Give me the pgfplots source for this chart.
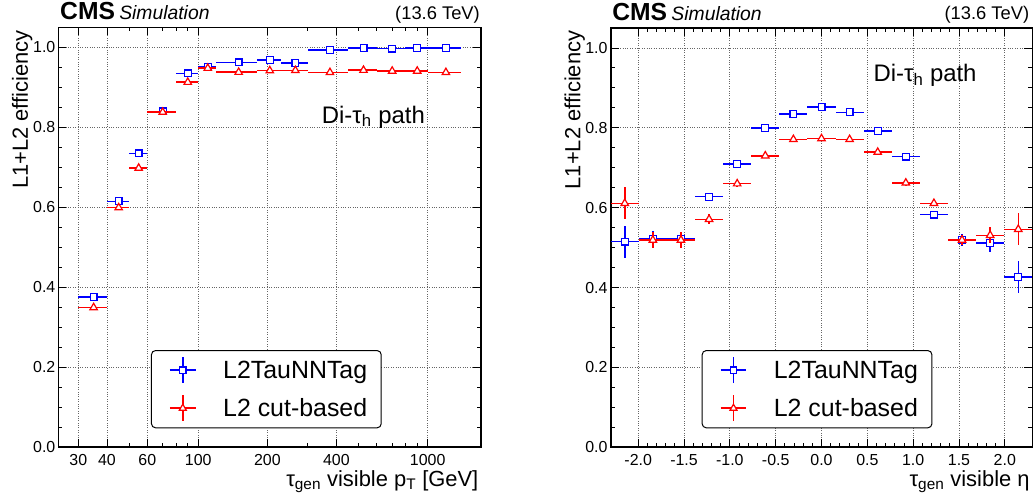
\documentclass[border=0pt]{standalone}
\usepackage{fontspec}
\setmainfont{Liberation Sans}
\usepackage{pgfplots}
\pgfplotsset{compat=1.18}
\definecolor{rblue}{RGB}{0,0,255}
\definecolor{rred}{RGB}{255,0,0}
\newcommand{\legcross}[3]{%
  \pgfpathrectangle{\pgfpoint{-17.3bp}{-12.8bp}}{\pgfpoint{30.1bp}{25.6bp}}\pgfusepath{use as bounding box}%
  \begin{scope}[draw=#1, line width=1.5bp]
    \pgfpathmoveto{\pgfpoint{-12.8bp}{0bp}}\pgfpathlineto{\pgfpoint{12.8bp}{0bp}}%
    \pgfpathmoveto{\pgfpoint{0bp}{-12.8bp}}\pgfpathlineto{\pgfpoint{0bp}{12.8bp}}%
    \pgfusepath{stroke}%
  \end{scope}
  \begin{scope}[draw=#1, fill=white, line width=1.2bp]
    \pgfsetplotmarksize{#3}\pgfuseplotmark{#2}%
  \end{scope}}
\pgfplotsset{
  cmsaxis/.style={
    scale only axis,
    anchor=south west,
    clip mode=individual,
    ymin=0, ymax=1.05,
    ytick={0,0.2,0.4,0.6,0.8,1.0},
    yticklabels={0.0,0.2,0.4,0.6,0.8,1.0},
    minor y tick num=3,
    tick align=inside,
    major tick length=8bp,
    minor tick length=4bp,
    every tick/.style={black, line width=0.9bp},
    axis line style={black, line width=1.6bp},
    grid=major,
    major grid style={dotted, black!60, line width=0.9bp},
    /pgf/number format/assume math mode=true,
    tick label style={font=\fontsize{16}{19}\selectfont},
    y tick label style={inner sep=0pt, xshift=-3bp},
    x tick label style={inner sep=0pt, yshift=-7bp},
    every axis x label/.style={at={(axis description cs:1,0)}, anchor=base east, inner sep=0pt, yshift=-39bp, xshift=-2.5bp, font=\fontsize{22}{26}\selectfont},
    every axis y label/.style={at={(axis description cs:-0.0722,0.994)}, rotate=90, anchor=base east, inner sep=0pt, font=\fontsize{22}{26}\selectfont},
    ylabel={L1+L2 efficiency},
    legend cell align=left,
    legend style={
      anchor=south west,
      draw=black, line width=1bp, rounded corners=4bp, fill=white,
      font=\fontsize{25}{30}\selectfont,
      inner xsep=14bp, inner ysep=6.8bp,
      row sep=12.4bp,
      nodes={inner sep=0pt},
      /tikz/every odd column/.append style={column sep=27.6bp},
    },
  },
  errstyle/.style={
    /pgfplots/error bars/x dir=both, /pgfplots/error bars/x explicit,
    /pgfplots/error bars/y dir=both, /pgfplots/error bars/y explicit,
    /pgfplots/error bars/error mark=none,
    /pgfplots/error bars/error bar style={line width=1.5bp}},
  bluepts/.style={only marks, color=rblue, mark=square*, mark size=3.4bp,
    mark options={fill=white, line width=1.2bp}, line width=1.5bp, errstyle},
  redpts/.style={only marks, color=rred, mark=triangle*, mark size=4.3bp,
    mark options={fill=white, line width=1.2bp}, line width=1.5bp, errstyle},
  bluelegend/.style={legend image code/.code={\legcross{rblue}{square*}{3.2bp}}},
  redlegend/.style={legend image code/.code={\legcross{rred}{triangle*}{4.0bp}}},
}
\newcommand{\cmslabel}{{\fontsize{24.75}{28}\selectfont\bfseries CMS}\hspace{4.3bp}{\fontsize{19.4}{23}\selectfont\itshape Simulation}}
\newcommand{\energylabel}{{\fontsize{18.4}{22}\selectfont (13.6 TeV)}}

\pgfplotstableread{
x     xm   xp   y      ey
35    5    5    0.375  0.004
45    5    5    0.615  0.004
55    5    5    0.735  0.004
70    10   10   0.840  0.003
90    10   10   0.935  0.003
110   10   10   0.952  0.002
150   30   30   0.9625 0.002
205   25   25   0.969  0.002
265   35   35   0.961  0.002
375   75   75   0.994  0.002
525   75   75   0.999  0.001
700   100  100  0.997  0.001
900   100  100  0.999  0.001
1200  200  200  0.999  0.001
}\ptblue
\pgfplotstableread{
x     xm   xp   y      ey
35    5    5    0.349  0.004
45    5    5    0.599  0.004
55    5    5    0.698  0.004
70    10   10   0.838  0.003
90    10   10   0.913  0.003
110   10   10   0.948  0.002
150   30   30   0.938  0.002
205   25   25   0.942  0.002
265   35   35   0.9425 0.002
375   75   75   0.9375 0.002
525   75   75   0.943  0.002
700   100  100  0.941  0.002
900   100  100  0.941  0.002
1200  200  200  0.9375 0.002
}\ptred
\pgfplotstableread{
x       xe      y       ey
-2.1467 0.1533  0.515   0.040
-1.8400 0.1533  0.521   0.021
-1.5333 0.1533  0.521   0.019
-1.2267 0.1533  0.6275  0.008
-0.9200 0.1533  0.710   0.006
-0.6133 0.1533  0.800   0.005
-0.3067 0.1533  0.835   0.005
0.0     0.1533  0.852   0.005
0.3067  0.1533  0.839   0.005
0.6133  0.1533  0.792   0.005
0.9200  0.1533  0.728   0.006
1.2267  0.1533  0.5825  0.008
1.5333  0.1533  0.519   0.015
1.8400  0.1533  0.512   0.022
2.1467  0.1533  0.426   0.040
}\etablue
\pgfplotstableread{
x       xe      y       ey
-2.1467 0.1533  0.611   0.040
-1.8400 0.1533  0.519   0.020
-1.5333 0.1533  0.519   0.020
-1.2267 0.1533  0.571   0.013
-0.9200 0.1533  0.660   0.007
-0.6133 0.1533  0.730   0.006
-0.3067 0.1533  0.771   0.005
0.0     0.1533  0.773   0.005
0.3067  0.1533  0.771   0.005
0.6133  0.1533  0.739   0.006
0.9200  0.1533  0.662   0.007
1.2267  0.1533  0.611   0.008
1.5333  0.1533  0.519   0.012
1.8400  0.1533  0.531   0.020
2.1467  0.1533  0.546   0.040
}\etared

\begin{document}
\begin{tikzpicture}
\useasboundingbox (0,0) rectangle (1036bp,502bp);
% ---------------- left: pT ----------------
\begin{axis}[cmsaxis,
  at={(58.5bp,55bp)}, width=422.5bp, height=419.5bp,
  xmode=log, xmin=24.6, xmax=1707,
  xtick={30,40,60,100,200,400,1000},
  xticklabels={30,40,60,100,200,400,1000},
  minor xtick={50,70,80,90,300,500,600,700,800,900},
  xlabel={τ\textsubscript{gen} visible p\textsubscript{T} [GeV]},
  legend style={at={(0.2189,0.0446)}},
]
\addplot[bluelegend, bluepts] table[x=x, y=y, x error plus=xp, x error minus=xm, y error=ey] {\ptblue};
\addlegendentry{L2TauNNTag}
\addplot[redlegend, redpts] table[x=x, y=y, x error plus=xp, x error minus=xm, y error=ey] {\ptred};
\addlegendentry{L2 cut-based}
\node[anchor=base west, inner sep=0pt, xshift=1.5bp, yshift=7.5bp] at (rel axis cs:0,1) {\cmslabel};
\node[anchor=base east, inner sep=0pt, xshift=-1bp, yshift=8bp] at (rel axis cs:1,1) {\energylabel};
\node[anchor=base west, inner sep=0pt, font=\fontsize{24}{28}\selectfont] at (rel axis cs:0.623,0.7717) {Di-τ\textsubscript{h} path};
\end{axis}
% ---------------- right: eta ----------------
\begin{axis}[cmsaxis,
  at={(610.7bp,54.7bp)}, width=421.6bp, height=419.3bp,
  xmin=-2.3, xmax=2.3,
  xtick={-2,-1.5,-1,-0.5,0,0.5,1,1.5,2},
  xticklabels={-2.0,-1.5,-1.0,-0.5,0.0,0.5,1.0,1.5,2.0},
  minor x tick num=4,
  xlabel={τ\textsubscript{gen} visible η},
  legend style={at={(0.2158,0.0453)}},
]
\addplot[bluelegend, bluepts] table[x=x, y=y, x error=xe, y error=ey] {\etablue};
\addlegendentry{L2TauNNTag}
\addplot[redlegend, redpts] table[x=x, y=y, x error=xe, y error=ey] {\etared};
\addlegendentry{L2 cut-based}
\node[anchor=base west, inner sep=0pt, xshift=1.5bp, yshift=7.5bp] at (rel axis cs:0,1) {\cmslabel};
\node[anchor=base east, inner sep=0pt, xshift=-3bp, yshift=8bp] at (rel axis cs:1,1) {\energylabel};
\node[anchor=base west, inner sep=0pt, font=\fontsize{24}{28}\selectfont] at (rel axis cs:0.623,0.872) {Di-τ\textsubscript{h} path};
\end{axis}
\end{tikzpicture}
\end{document}
